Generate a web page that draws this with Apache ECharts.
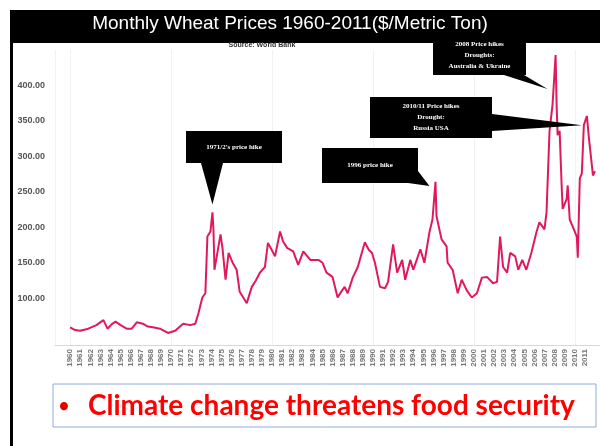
<!DOCTYPE html>
<html>
<head>
<meta charset="utf-8">
<title>Monthly Wheat Prices 1960-2011</title>
<script src="https://cdn.jsdelivr.net/npm/echarts@6/dist/echarts.min.js"></script>
<style>
  html, body { margin: 0; padding: 0; background: #fff; }
  #main { width: 600px; height: 446px; }
</style>
</head>
<body>
<div id="main"></div>
<script>
// price samples ($/metric ton)
var years = [
  1960.0, 1960.5, 1961.0, 1961.8, 1962.6, 1963.3, 1963.7, 1964.1, 1964.5, 1965.0,
  1965.6, 1966.1, 1966.6, 1967.2, 1967.7, 1968.2, 1968.9, 1969.7, 1970.4, 1971.2,
  1971.9, 1972.4, 1972.7, 1973.1, 1973.4, 1973.6, 1973.9, 1974.1, 1974.2, 1974.3,
  1974.6, 1974.9, 1975.1, 1975.4, 1975.7, 1976.1, 1976.5, 1976.8, 1977.2, 1977.5,
  1978.0, 1978.4, 1978.8, 1979.3, 1979.6, 1979.9, 1980.3, 1980.8, 1981.1, 1981.5,
  1982.1, 1982.6, 1983.1, 1983.8, 1984.6, 1985.0, 1985.4, 1986.0, 1986.5, 1986.9,
  1987.2, 1987.5, 1988.0, 1988.5, 1989.2, 1989.6, 1989.9, 1990.2, 1990.7, 1991.2,
  1991.5, 1992.0, 1992.4, 1992.9, 1993.2, 1993.7, 1994.0, 1994.7, 1995.1, 1995.6,
  1995.9, 1996.2, 1996.3, 1996.8, 1997.3, 1997.4, 1997.9, 1998.4, 1998.8, 1999.3,
  1999.8, 2000.3, 2000.8, 2001.3, 2001.9, 2002.3, 2002.6, 2002.9, 2003.3, 2003.6,
  2004.1, 2004.4, 2004.8, 2005.2, 2005.7, 2006.2, 2006.5, 2007.0, 2007.2, 2007.5,
  2007.8, 2008.1, 2008.2, 2008.3, 2008.5, 2008.7, 2008.8, 2009.2, 2009.3, 2009.5,
  2009.8, 2010.2, 2010.3, 2010.5, 2010.7, 2010.9, 2011.2, 2011.4, 2011.7, 2011.8,
  2012.0
];
var prices = [
  59, 55, 54, 57, 62, 69, 57, 63, 67, 62,
  57, 57, 66, 64, 60, 59, 57, 51, 54, 64,
  62, 64, 78, 101, 107, 187, 194, 221, 197, 140,
  165, 190, 170, 126, 164, 150, 140, 109, 100, 93,
  116, 125, 136, 144, 178, 170, 159, 194, 180, 171,
  166, 147, 166, 154, 154, 150, 136, 130, 101, 110,
  116, 107, 129, 144, 179, 168, 164, 150, 116, 114,
  123, 176, 136, 154, 126, 154, 140, 169, 150, 193,
  211, 264, 216, 183, 173, 150, 140, 107, 126, 111,
  101, 107, 129, 130, 121, 123, 187, 144, 136, 164,
  159, 140, 154, 140, 164, 193, 207, 197, 221, 336,
  373, 443, 373, 330, 336, 259, 226, 240, 259, 211,
  201, 187, 157, 269, 276, 344, 357, 326, 287, 273,
  279
];
var yTicks = [100, 150, 200, 250, 300, 350, 400];
var yearLabels = [
  1960, 1961, 1962, 1963, 1964, 1965, 1966, 1967, 1968, 1969,
  1970, 1971, 1972, 1973, 1974, 1975, 1976, 1977, 1978, 1979,
  1980, 1981, 1982, 1983, 1984, 1985, 1986, 1987, 1988, 1989,
  1990, 1991, 1992, 1993, 1994, 1995, 1996, 1997, 1998, 1999,
  2000, 2001, 2002, 2003, 2004, 2005, 2006, 2007, 2008, 2009,
  2010, 2011
];

// callout boxes: text, box, base of the pointer, and the data point it points at
var callouts = [
  { lines: ["1971/2's price hike"], box: [186, 131, 96, 32],
    base: [[201, 163], [223, 163]], target: [1974.1, 221], off: [0, -8] },
  { lines: ["1996 price hike"], box: [322, 148, 96, 35],
    base: [[408, 183], [418, 171]], target: [1996.2, 264], off: [-6, 4] },
  { lines: ["2010/11 Price hikes", "Drought:", "Russia USA"], box: [370, 97, 122, 41],
    base: [[492, 114], [492, 131]], target: [2010.9, 344], off: [-2, 0] },
  { lines: ["2008 Price hikes", "Droughts:", "Australia & Ukraine"], box: [433, 36, 93, 39],
    base: [[504, 75], [524, 75]], target: [2007.7, 395], off: [-4, 0] }
];

var chart = echarts.init(document.getElementById('main'));

var points = years.map(function (y, i) { return [y, prices[i]]; });

chart.setOption({
  backgroundColor: '#fff',
  animation: false,
  grid: { left: 55, right: 0, top: 50, bottom: 101 },
  xAxis: {
    type: 'value',
    min: 1958.5,
    max: 2012.5,
    axisLine: { lineStyle: { color: '#d8d8d8' } },
    axisTick: { show: false },
    splitLine: { show: true, lineStyle: { color: '#f2f2f2' } },
    axisLabel: {
      customValues: yearLabels,
      formatter: function (v) { return String(v); },
      rotate: 90,
      fontSize: 8,
      fontWeight: 'bold',
      color: '#777',
      margin: 4,
      fontFamily: 'Liberation Sans'
    }
  },
  yAxis: {
    type: 'value',
    min: 34,
    max: 450,
    axisLine: { show: false },
    axisTick: { show: false },
    splitLine: { show: false },
    axisLabel: {
      customValues: yTicks,
      formatter: function (v) { return v.toFixed(2); },
      fontSize: 9,
      fontWeight: 'bold',
      color: '#555',
      margin: 10,
      fontFamily: 'Liberation Sans'
    }
  },
  series: [{
    type: 'line',
    data: points,
    showSymbol: false,
    lineStyle: { color: '#e0195f', width: 2 },
    z: 3
  }]
});

// build the slide decorations and callouts
var g = [];
g.push({ type: 'rect', shape: { x: 10, y: 10, width: 590, height: 33 }, style: { fill: '#000' }, z: 10 });
g.push({ type: 'text', x: 290, y: 24, style: {
  text: 'Monthly Wheat Prices 1960-2011($/Metric Ton)', fill: '#fff',
  font: '19px "Liberation Sans"', textAlign: 'center', textVerticalAlign: 'middle' }, z: 11 });
g.push({ type: 'text', x: 262, y: 45, style: {
  text: 'Source: World Bank', fill: '#333',
  font: 'bold 7px "Liberation Sans"', textAlign: 'center', textVerticalAlign: 'middle' }, z: 11 });
g.push({ type: 'rect', shape: { x: 10, y: 10, width: 3, height: 436 }, style: { fill: '#000' }, z: 12 });

callouts.forEach(function (c) {
  var tip = chart.convertToPixel({ gridIndex: 0 }, c.target);
  tip = [tip[0] + c.off[0], tip[1] + c.off[1]];
  g.push({ type: 'polygon', shape: { points: [c.base[0], c.base[1], tip] }, style: { fill: '#000' }, z: 10 });
  g.push({ type: 'rect', shape: { x: c.box[0], y: c.box[1], width: c.box[2], height: c.box[3] },
    style: { fill: '#000' }, z: 10 });
  var lh = 11;
  var cy = c.box[1] + c.box[3] / 2 - (c.lines.length - 1) * lh / 2;
  c.lines.forEach(function (t, i) {
    g.push({ type: 'text', x: c.box[0] + c.box[2] / 2, y: cy + i * lh, style: {
      text: t, fill: '#fff', font: 'bold 7px "Liberation Serif"',
      textAlign: 'center', textVerticalAlign: 'middle' }, z: 11 });
  });
});

g.push({ type: 'rect', shape: { x: 53, y: 384, width: 543, height: 43 },
  style: { fill: '#fff', stroke: '#8eaadb', lineWidth: 1 }, z: 10 });
g.push({ type: 'text', x: 64, y: 406, style: {
  text: '\u2022', fill: '#e00000', font: 'bold 18px Lato',
  textAlign: 'center', textVerticalAlign: 'middle' }, z: 11 });
g.push({ type: 'text', x: 88, y: 406, style: {
  text: 'Climate change threatens food security', fill: '#ff0000', font: 'bold 28px Lato',
  textAlign: 'left', textVerticalAlign: 'middle' }, z: 11 });

chart.setOption({ graphic: g });
</script>
</body>
</html>
